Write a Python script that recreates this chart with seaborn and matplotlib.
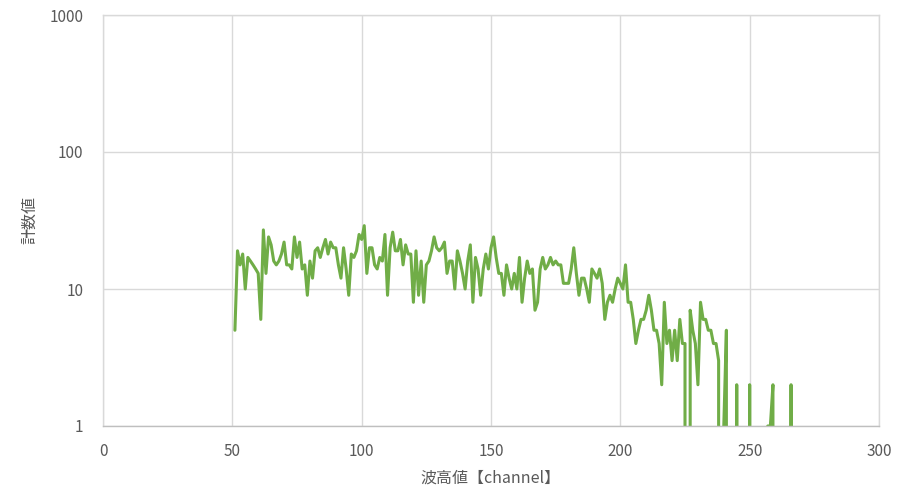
import numpy as np
import pandas as pd
import matplotlib
matplotlib.use('Agg')
import matplotlib.pyplot as plt
import seaborn as sns

# pulse height spectrum, channels 51..267 (0 = no counts)
channels = list(range(51, 268))
counts = [
    5, 19, 15, 18, 10, 17, 16, 15, 14, 13,     # 51-60
    6, 27, 13, 24, 21, 16, 15, 16, 18, 22,     # 61-70
    15, 15, 14, 24, 17, 22, 14, 15, 9, 16,     # 71-80
    12, 19, 20, 17, 20, 23, 18, 22, 20, 20,    # 81-90
    15, 12, 20, 14, 9, 18, 17, 19, 25, 23,     # 91-100
    29, 13, 20, 20, 15, 14, 17, 16, 25, 9,     # 101-110
    20, 26, 19, 19, 23, 15, 21, 18, 18, 8,     # 111-120
    19, 9, 16, 8, 15, 16, 19, 24, 20, 19,      # 121-130
    20, 22, 13, 16, 16, 10, 19, 16, 13, 10,    # 131-140
    16, 21, 8, 17, 14, 9, 14, 18, 14, 20,      # 141-150
    24, 17, 13, 13, 9, 15, 12, 10, 13, 10,     # 151-160
    17, 8, 12, 16, 13, 14, 7, 8, 14, 17,       # 161-170
    14, 15, 17, 15, 16, 15, 15, 11, 11, 11,    # 171-180
    14, 20, 13, 9, 12, 12, 10, 8, 14, 13,      # 181-190
    12, 14, 11, 6, 8, 9, 8, 10, 12, 11,        # 191-200
    10, 15, 8, 8, 6, 4, 5, 6, 6, 7,            # 201-210
    9, 7, 5, 5, 4, 2, 8, 4, 5, 3,              # 211-220
    5, 3, 6, 4, 4, 0, 7, 5, 4, 2,              # 221-230
    8, 6, 6, 5, 5, 4, 4, 3, 0, 1,              # 231-240
    5, 0, 0, 0, 2, 0, 0, 0, 0, 2,              # 241-250
    0, 0, 0, 0, 0, 0, 1, 1, 2, 0,              # 251-260
    0, 0, 0, 0, 0, 2, 0,                       # 261-267
]

x_ticks = [0, 50, 100, 150, 200, 250, 300]
y_ticks = [1, 10, 100, 1000]
y_tick_labels = ['1', '10', '100', '1000']

sns.set_style('white')
plt.rcParams['font.family'] = ['Noto Sans CJK JP', 'DejaVu Sans']

df = pd.DataFrame({'channel': channels, 'count': counts})

fig = plt.figure(figsize=(9.06, 4.91), dpi=100)
ax = fig.add_axes([103 / 906, 1 - 426 / 491, 776 / 906, 411 / 491])

sns.lineplot(data=df, x='channel', y='count', ax=ax, color='#70AD47',
             linewidth=2.2, estimator=None)

ax.set_yscale('log', nonpositive='clip')
ax.set_xlim(0, 300)
ax.set_ylim(1, 1000)
ax.set_xticks(x_ticks)
ax.set_yticks(y_ticks)
ax.set_yticklabels(y_tick_labels)
ax.yaxis.set_minor_locator(matplotlib.ticker.NullLocator())

grid_col = '#d9d9d9'
ax.grid(True, which='major', color=grid_col, linewidth=1)
ax.set_axisbelow(True)
for side in ['top', 'right', 'left', 'bottom']:
    ax.spines[side].set_color(grid_col)
    ax.spines[side].set_linewidth(1)
ax.spines['bottom'].set_color('#bfbfbf')

ax.tick_params(axis='both', length=0, labelsize=11, colors='#595959')
ax.tick_params(axis='x', pad=12)
ax.tick_params(axis='y', pad=14)

ax.set_xlabel('波高値【channel】', fontsize=11.5, color='#595959')
ax.set_ylabel('計数値', fontsize=11.5, color='#595959')
ax.xaxis.set_label_coords(0.5, -0.105)
ax.yaxis.set_label_coords(-0.084, 0.5)

fig.savefig('out.png', dpi=100)
